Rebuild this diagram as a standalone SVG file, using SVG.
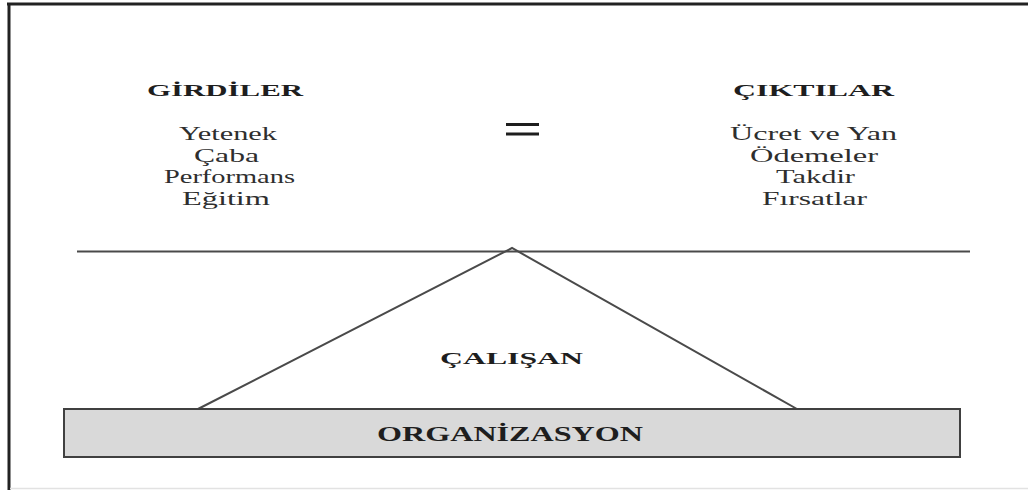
<svg xmlns="http://www.w3.org/2000/svg" width="1028" height="490" viewBox="0 0 1028 490">
<style>
.h{font-family:"Liberation Serif","Times New Roman",serif;font-weight:bold;fill:#1e1e1e;text-anchor:middle}
.b{font-family:"Liberation Serif","Times New Roman",serif;fill:#2e2e2e;text-anchor:middle;font-size:19.5px}
.ln{stroke:#4a4a4a;stroke-width:2;fill:none}
</style>
<rect x="0" y="0" width="1028" height="490" fill="#ffffff"/>
<g id="frame">
<line x1="7" y1="4" x2="1028" y2="4" stroke="#222" stroke-width="3"/>
<line x1="9" y1="3" x2="9" y2="490" stroke="#222" stroke-width="3"/>
<line x1="10" y1="488.5" x2="1028" y2="488.5" stroke="#e2e2e2" stroke-width="1.5"/>
</g>
<g id="connectors">
<line class="ln" x1="77" y1="251.5" x2="970" y2="251.5"/>
<polyline class="ln" points="198,409 512,248 797,409"/>
</g>
<g id="girdiler">
<text class="h" x="225" y="96" font-size="17.5" textLength="156" lengthAdjust="spacingAndGlyphs">GİRDİLER</text>
<text class="b" x="228" y="140" textLength="98" lengthAdjust="spacingAndGlyphs">Yetenek</text>
<text class="b" x="226.5" y="161.5" textLength="65" lengthAdjust="spacingAndGlyphs">Çaba</text>
<text class="b" x="229.5" y="183" textLength="131" lengthAdjust="spacingAndGlyphs">Performans</text>
<text class="b" x="226" y="204.5" textLength="88" lengthAdjust="spacingAndGlyphs">Eğitim</text>
</g>
<g id="equals">
<line x1="506" y1="124.5" x2="539" y2="124.5" stroke="#1e1e1e" stroke-width="3"/>
<line x1="506" y1="134" x2="539" y2="134" stroke="#1e1e1e" stroke-width="3"/>
</g>
<g id="ciktilar">
<text class="h" x="813.5" y="96" font-size="17.5" textLength="161" lengthAdjust="spacingAndGlyphs">ÇIKTILAR</text>
<text class="b" x="813.5" y="140" textLength="167" lengthAdjust="spacingAndGlyphs">Ücret ve Yan</text>
<text class="b" x="814" y="161.5" textLength="128" lengthAdjust="spacingAndGlyphs">Ödemeler</text>
<text class="b" x="815.5" y="183" textLength="79" lengthAdjust="spacingAndGlyphs">Takdir</text>
<text class="b" x="814.5" y="204.5" textLength="105" lengthAdjust="spacingAndGlyphs">Fırsatlar</text>
</g>
<g id="calisan">
<text class="h" x="511.5" y="364" font-size="17.5" textLength="143" lengthAdjust="spacingAndGlyphs">ÇALIŞAN</text>
</g>
<g id="organizasyon">
<rect x="64" y="409" width="896" height="48" fill="#d9d9d9" stroke="#404040" stroke-width="2"/>
<text class="h" x="510" y="441" font-size="20" textLength="266" lengthAdjust="spacingAndGlyphs">ORGANİZASYON</text>
</g>
</svg>
